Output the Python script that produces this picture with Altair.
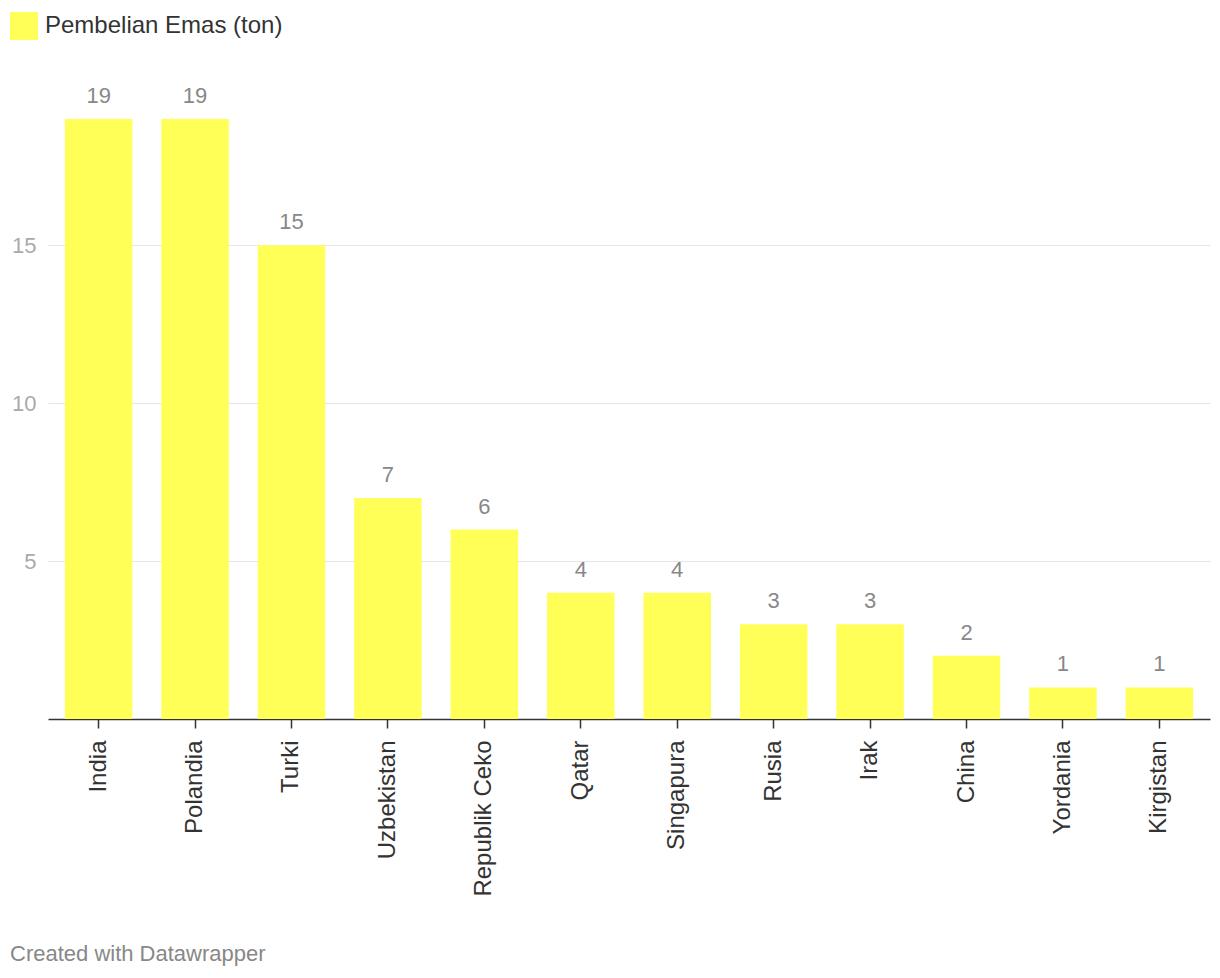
import altair as alt
import pandas as pd

countries = ["India", "Polandia", "Turki", "Uzbekistan", "Republik Ceko", "Qatar",
             "Singapura", "Rusia", "Irak", "China", "Yordania", "Kirgistan"]
values = [19, 19, 15, 7, 6, 4, 4, 3, 3, 2, 1, 1]
series_name = "Pembelian Emas (ton)"
y_ticks = [5, 10, 15]

df = pd.DataFrame({"negara": countries, "ton": values, "seri": [series_name] * len(countries)})

FONT = "Liberation Sans"

x_enc = alt.X("negara:N", sort=countries, title=None,
              scale=alt.Scale(paddingInner=0.3, paddingOuter=0.175),
              axis=alt.Axis(labelAngle=-90, labelFontSize=24, labelColor="#333333",
                            labelPadding=12, tickSize=9, tickColor="#333333", tickWidth=1.5,
                            domainColor="#333333", domainWidth=1.5, labelFont=FONT,
                            labelLimit=300))
y_enc = alt.Y("ton:Q", title=None, scale=alt.Scale(domain=[0, 19], nice=False),
              axis=alt.Axis(values=y_ticks, grid=True, gridColor="#e6e6e6", gridWidth=1,
                            domain=False, ticks=False, tickSize=0, labelPadding=12,
                            labelFontSize=22, labelColor="#aaaaaa", labelFont=FONT))

bars = alt.Chart(df).mark_bar(color="#ffff57").encode(
    x=x_enc, y=y_enc,
    color=alt.Color("seri:N", scale=alt.Scale(range=["#ffff57"]),
                    legend=alt.Legend(title=None, orient="none", legendX=-38, legendY=-107,
                                      symbolType="square", symbolSize=784, symbolStrokeWidth=0,
                                      labelFontSize=24, labelColor="#333333", labelFont=FONT,
                                      labelOffset=7, padding=0, labelLimit=400)),
)

labels = alt.Chart(df).mark_text(baseline="alphabetic", dy=-16, fontSize=22,
                                 color="#888888", font=FONT).encode(
    x=alt.X("negara:N", sort=countries),
    y="ton:Q",
    text="ton:Q",
)

chart = (bars + labels).properties(
    width=1162, height=600,
    autosize=alt.AutoSizeParams(type="none"),
    padding={"left": 40, "top": 111, "right": 2, "bottom": 254},
    title=alt.TitleParams("Created with Datawrapper", orient="bottom", anchor="start",
                          frame="group", dx=-38, offset=48, fontSize=22,
                          fontWeight="normal", color="#888888", font=FONT),
).configure(font=FONT).configure_view(stroke="transparent", strokeWidth=0)

chart.save("out.html", embed_options={"renderer": "svg", "actions": False})
